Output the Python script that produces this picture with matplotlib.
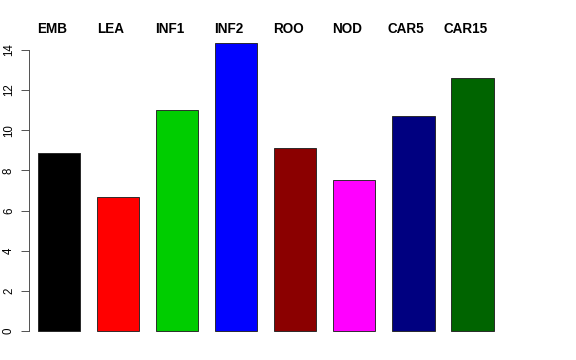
import matplotlib
matplotlib.use("Agg")
import matplotlib.pyplot as plt
import numpy as np

categories = ["EMB", "LEA", "INF1", "INF2", "ROO", "NOD", "CAR5", "CAR15"]
values = [8.87, 6.68, 11.01, 14.35, 9.12, 7.52, 10.71, 12.60]
colors = ["#000000", "#FF0000", "#00CD00", "#0000FF", "#8B0000", "#FF00FF", "#000080", "#006400"]
yticks = [0, 2, 4, 6, 8, 10, 12, 14]

plt.rcParams['font.family'] = ['Liberation Sans', 'DejaVu Sans']

fig = plt.figure(figsize=(8, 5), dpi=72)
W, H = 576, 360
left_px, right_px = 29, 520
bottom_px, top_px = 342.5, 31.5
ax = fig.add_axes([left_px / W, 1 - bottom_px / H, (right_px - left_px) / W, (bottom_px - top_px) / H])

n = len(categories)
lefts = 0.4 + 1.4 * np.arange(n)
centers = lefts + 0.5
ax.bar(centers, values, width=1.0, color=colors, edgecolor="#222222", linewidth=0.9)

ax.set_xlim(0.19, 0.19 + (right_px - left_px) / 42.2)
ax.set_ylim(-0.574, 14.92)

for s in ["top", "right", "bottom"]:
    ax.spines[s].set_visible(False)
ax.spines["left"].set_bounds(0, 14)
ax.spines["left"].set_color("#444444")
ax.spines["left"].set_linewidth(0.9)
ax.set_xticks([])
ax.set_yticks(yticks)
ax.set_yticklabels([str(t) for t in yticks], rotation=90, va="center", fontsize=11.5)
ax.tick_params(axis="y", length=8, width=0.9, color="#444444", pad=6)

label_y = (331 - 29.5) / 20.07
for c, lab in zip(centers - 0.17, categories):
    ax.text(c, label_y, lab, ha="center", va="center", fontsize=13.5, fontweight="bold", clip_on=False)

fig.savefig("out.png", dpi=72)
